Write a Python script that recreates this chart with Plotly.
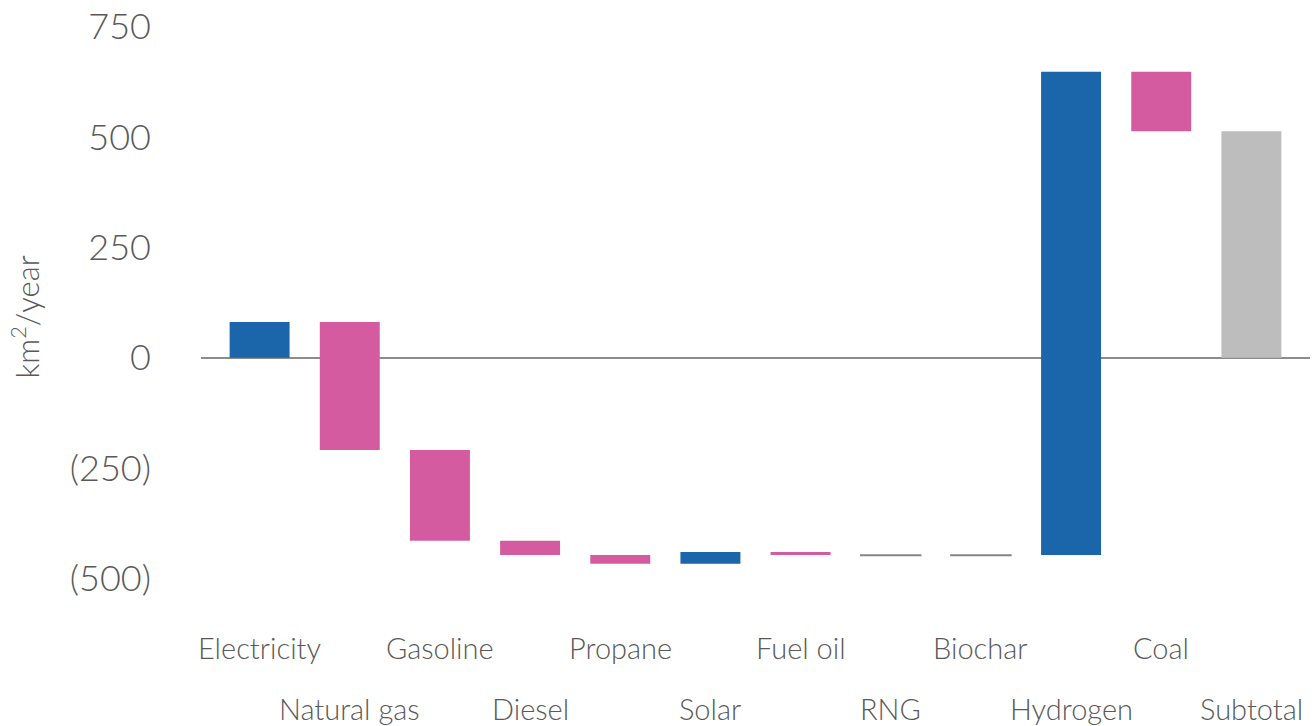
import plotly.graph_objects as go

categories = ["Electricity", "Natural gas", "Gasoline", "Diesel", "Propane", "Solar",
              "Fuel oil", "RNG", "Biochar", "Hydrogen", "Coal", "Subtotal"]
deltas = [81, -290, -206, -32, -20, 27, -7, -1, 1, 1095, -135, None]
kinds = ["up", "down", "down", "down", "down", "up", "down", "flat", "flat", "up", "down", "total"]
ytick_vals = [-500, -250, 0, 250, 500, 750]
ytick_text = ["(500)", "(250)", "0", "250", "500", "750"]

BLUE = "#1B65AA"
PINK = "#D45B9F"
GRAY = "#BDBDBD"
FLATGRAY = "#858585"

bases, heights, colors = [], [], []
running = 0.0
for d, k in zip(deltas, kinds):
    if k == "total":
        bases.append(0)
        heights.append(running)
        colors.append(GRAY)
    else:
        bases.append(running)
        heights.append(d)
        running += d
        colors.append({"up": BLUE, "down": PINK, "flat": FLATGRAY}[k])

FONT = "Lato"
TXT = "#595959"

fig = go.Figure()
fig.add_trace(go.Bar(
    x=list(range(len(categories))), y=heights, base=bases,
    marker=dict(color=colors, line=dict(color=colors,
                width=[1.5 if k == "flat" else 0 for k in kinds])),
    width=0.665, hoverinfo="skip",
))

annotations = []
for i, c in enumerate(categories):
    annotations.append(dict(
        x=i, xref="x", y=-0.0545 if i % 2 == 0 else -0.154, yref="paper",
        text=c, showarrow=False, xanchor="center", yanchor="middle",
        font=dict(family=FONT, size=29, color=TXT, weight=300)))
annotations.append(dict(
    x=-0.158, xref="paper", y=0.493, yref="paper", text="km<sup>2</sup>/year",
    textangle=-90, showarrow=False, xanchor="center", yanchor="middle",
    font=dict(family=FONT, size=31, color=TXT, weight=300)))

fig.update_layout(
    width=1314, height=726,
    margin=dict(l=201, r=4, t=10, b=111),
    paper_bgcolor="white", plot_bgcolor="white",
    showlegend=False,
    annotations=annotations,
    xaxis=dict(range=[-0.65, 11.65], showticklabels=False, showgrid=False,
               zeroline=False, showline=False, ticks=""),
    yaxis=dict(range=[-583, 788], tickvals=ytick_vals, ticktext=ytick_text,
               showgrid=False, zeroline=True, zerolinecolor="#8C8C8C", zerolinewidth=1.5,
               showline=False, ticks="", ticklabelstandoff=49,
               tickfont=dict(family=FONT, size=36, color=TXT, weight=300)),
    font=dict(family=FONT, color=TXT),
)

fig.write_html("out.html", config={"displayModeBar": False},
               post_script="document.body.style.margin='0';document.body.style.overflow='hidden';")
